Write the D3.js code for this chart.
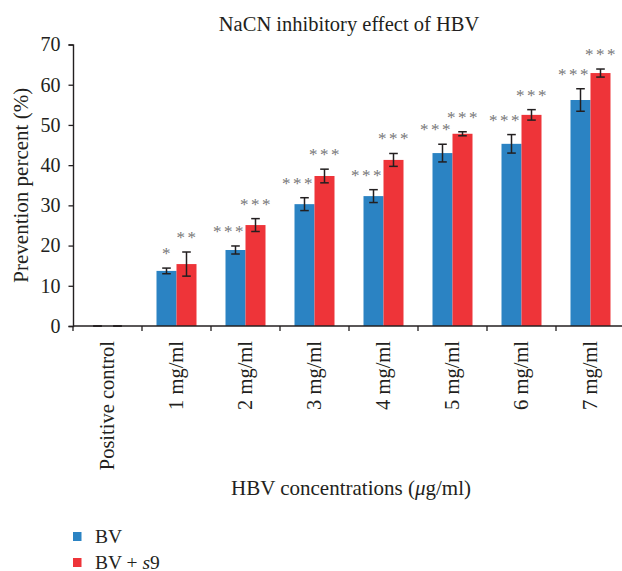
<!DOCTYPE html>
<html>
<head>
<meta charset="utf-8">
<script src="https://cdn.jsdelivr.net/npm/d3@7"></script>
<style>
  body { margin: 0; background: #fff; }
  text { font-family: "Liberation Serif", "Times New Roman", serif; fill: #231f20; }
</style>
</head>
<body>
<svg width="622" height="571"></svg>
<script>
// values (percent, +/- error)
const categories = ['Positive control', '1 mg/ml', '2 mg/ml', '3 mg/ml', '4 mg/ml', '5 mg/ml', '6 mg/ml', '7 mg/ml'];
const seriesNames = ['BV', 'BV + s9'];
const bvValues = [0, 13.7, 18.9, 30.3, 32.3, 43.0, 45.3, 56.2];
const bvErrors = [0, 0.7, 1.0, 1.6, 1.6, 2.2, 2.3, 2.8];
const s9Values = [0, 15.4, 25.1, 37.3, 41.3, 47.8, 52.5, 62.9];
const s9Errors = [0, 3.0, 1.6, 1.7, 1.6, 0.5, 1.3, 1.0];
const bvStars = ['', '*', '***', '***', '***', '***', '***', '***'];
const s9Stars = ['', '**', '***', '***', '***', '***', '***', '***'];
const yTicks = [0, 10, 20, 30, 40, 50, 60, 70];
const colors = ['#2b83c3', '#ee3439'];

const svg = d3.select('svg');
const plotL = 73, plotR = 625, plotT = 44.5, plotB = 326;

const x = d3.scaleBand().domain(categories).range([plotL, plotR]);
const xs = d3.scaleBand().domain(seriesNames).range([0, x.bandwidth()]).paddingOuter(0.725);
const y = d3.scaleLinear().domain([0, 70]).range([plotB, plotT]);

const rows = categories.map((c, i) => ({
  cat: c,
  vals: [
    { s: seriesNames[0], v: bvValues[i], e: bvErrors[i], star: bvStars[i] },
    { s: seriesNames[1], v: s9Values[i], e: s9Errors[i], star: s9Stars[i] }
  ]
}));

// title
svg.append('text')
  .attr('x', (plotL + plotR) / 2).attr('y', 31)
  .attr('text-anchor', 'middle')
  .style('font-size', '20.5px')
  .text('NaCN inhibitory effect of HBV');

// bars
const groups = svg.selectAll('g.cat').data(rows).enter().append('g')
  .attr('class', 'cat')
  .attr('transform', d => `translate(${x(d.cat)},0)`);

groups.selectAll('rect').data(d => d.vals).enter().append('rect')
  .attr('x', d => xs(d.s))
  .attr('y', d => y(d.v))
  .attr('width', xs.bandwidth())
  .attr('height', d => y(0) - y(d.v))
  .attr('fill', (d, i) => colors[i]);

// error bars
const eb = groups.selectAll('g.err').data(d => d.vals).enter().append('g')
  .attr('class', 'err')
  .attr('stroke', '#231f20')
  .attr('stroke-width', 1.5);
const cx = d => xs(d.s) + xs.bandwidth() / 2;
eb.append('line')
  .attr('x1', cx).attr('x2', cx)
  .attr('y1', d => y(d.v + d.e)).attr('y2', d => y(d.v - d.e));
eb.append('line')
  .attr('x1', d => cx(d) - 4.3).attr('x2', d => cx(d) + 4.3)
  .attr('y1', d => y(d.v + d.e)).attr('y2', d => y(d.v + d.e));
eb.append('line')
  .attr('x1', d => cx(d) - 4.3).attr('x2', d => cx(d) + 4.3)
  .attr('y1', d => y(d.v - d.e)).attr('y2', d => y(d.v - d.e));

// significance stars, blue ones sit a bit to the left
groups.selectAll('text.star').data(d => d.vals).enter().append('text')
  .attr('class', 'star')
  .attr('x', (d, i) => cx(d) + (i === 0 && d.star.length > 1 ? -6 : 1))
  .attr('y', d => y(d.v + d.e) - 9)
  .attr('text-anchor', 'middle')
  .style('font-size', '17px')
  .style('letter-spacing', '2.5px')
  .style('fill', '#777777')
  .text(d => d.star);

// y axis
const yAxis = svg.append('g')
  .attr('transform', `translate(${plotL},0)`)
  .call(d3.axisLeft(y).tickValues(yTicks).tickSize(4.5).tickPadding(8));
yAxis.selectAll('text').style('font-size', '20px').attr('fill', '#231f20');
yAxis.select('.domain').attr('stroke', '#231f20').attr('stroke-width', 1.4);
yAxis.selectAll('.tick line').attr('stroke', '#231f20').attr('stroke-width', 1.3);

// x axis: ticks on band edges, labels rotated under band centers
const xAxis = svg.append('g').attr('transform', `translate(0,${plotB})`);
xAxis.append('line').attr('x1', plotL).attr('x2', plotR).attr('stroke', '#231f20').attr('stroke-width', 1.4);
xAxis.selectAll('line.tick').data(categories.concat(['end'])).enter().append('line')
  .attr('class', 'tick')
  .attr('x1', (d, i) => plotL + i * x.step()).attr('x2', (d, i) => plotL + i * x.step())
  .attr('y1', 0).attr('y2', 5)
  .attr('stroke', '#231f20').attr('stroke-width', 1.3);
xAxis.selectAll('text').data(categories).enter().append('text')
  .attr('transform', d => `translate(${x(d) + x.bandwidth() / 2 + 6.5},15) rotate(-90)`)
  .attr('text-anchor', 'end')
  .style('font-size', '20.5px')
  .text(d => d);

// axis titles
svg.append('text')
  .attr('transform', `translate(28,${(plotT + plotB) / 2}) rotate(-90)`)
  .attr('text-anchor', 'middle')
  .style('font-size', '21px')
  .text('Prevention percent (%)');

const xt = svg.append('text')
  .attr('x', 351).attr('y', 495)
  .attr('text-anchor', 'middle')
  .style('font-size', '21px');
xt.append('tspan').text('HBV concentrations (');
xt.append('tspan').style('font-style', 'italic').text('\u03bc');
xt.append('tspan').text('g/ml)');

// legend
const leg = svg.selectAll('g.leg').data(seriesNames).enter().append('g')
  .attr('class', 'leg')
  .attr('transform', (d, i) => `translate(73,${532 + i * 26})`);
leg.append('rect').attr('width', 8.5).attr('height', 9).attr('fill', (d, i) => colors[i]);
const lt = leg.append('text').attr('x', 22).attr('y', 10.5).style('font-size', '19.5px');
lt.filter((d, i) => i === 0).text(d => d);
lt.filter((d, i) => i === 1).each(function () {
  const t = d3.select(this);
  t.append('tspan').text('BV + ');
  t.append('tspan').style('font-style', 'italic').text('s');
  t.append('tspan').text('9');
});
</script>
</body>
</html>
